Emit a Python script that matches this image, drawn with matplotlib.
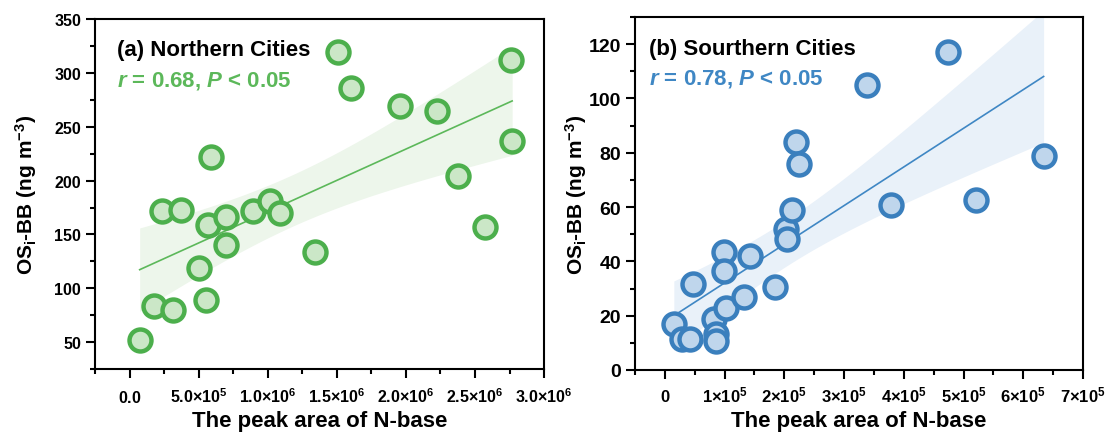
import numpy as np
import matplotlib
matplotlib.use('Agg')
import matplotlib.pyplot as plt
from matplotlib.ticker import MultipleLocator, FixedLocator, FixedFormatter

plt.rcParams['font.family'] = ['Liberation Sans', 'DejaVu Sans']
plt.rcParams['font.weight'] = 'bold'
plt.rcParams['mathtext.fontset'] = 'custom'
plt.rcParams['mathtext.rm'] = 'Liberation Sans:bold'
plt.rcParams['mathtext.it'] = 'Liberation Sans:bold:italic'
plt.rcParams['mathtext.bf'] = 'Liberation Sans:bold'
plt.rcParams['mathtext.default'] = 'regular'

# (a) Northern Cities
north_x = [0.073e6, 0.177e6, 0.312e6, 0.234e6, 0.369e6, 0.499e6, 0.556e6, 0.571e6,
           0.592e6, 0.696e6, 0.701e6, 0.894e6, 1.013e6, 1.086e6, 1.340e6, 1.512e6,
           1.605e6, 1.958e6, 2.223e6, 2.374e6, 2.571e6, 2.758e6, 2.769e6]
north_y = [52, 84, 80, 171.5, 173, 119, 89, 159,
           222, 140.5, 166, 171.5, 181, 170, 134, 319.6,
           286, 269, 265, 204.4, 157, 312, 237]

# (b) Sourthern Cities
south_x = [0.15e5, 0.29e5, 0.42e5, 0.47e5, 0.83e5, 0.86e5, 0.86e5, 0.99e5,
           0.99e5, 1.02e5, 1.32e5, 1.43e5, 1.85e5, 2.03e5, 2.04e5, 2.13e5,
           2.19e5, 2.25e5, 3.39e5, 3.79e5, 4.74e5, 5.21e5, 6.34e5]
south_y = [16.8, 11.5, 11.6, 31.7, 18.8, 13.2, 10.8, 43.4,
           36.4, 22.8, 26.9, 41.9, 30.6, 51.8, 48.1, 59,
           84.1, 76, 105.1, 60.7, 117.2, 62.5, 78.7]

north_ticks = [0, 5e5, 1e6, 1.5e6, 2e6, 2.5e6, 3e6]
north_ticklabels = ['$0.0$', '5.0×10$^{5}$', '1.0×10$^{6}$', '1.5×10$^{6}$',
                    '2.0×10$^{6}$', '2.5×10$^{6}$', '3.0×10$^{6}$']
south_ticks = [0, 1e5, 2e5, 3e5, 4e5, 5e5, 6e5, 7e5]
south_ticklabels = ['$0$'] + ['%d×10$^{5}$' % i for i in range(1, 8)]


def fit_band(x, y, t=2.080):
    # linear fit and 95% confidence band of the mean
    x = np.asarray(x, float)
    y = np.asarray(y, float)
    k, b = np.polyfit(x, y, 1)
    n = len(x)
    resid = y - (k * x + b)
    s = np.sqrt((resid ** 2).sum() / (n - 2))
    xs = np.linspace(x.min(), x.max(), 200)
    ys = k * xs + b
    se = s * np.sqrt(1 / n + (xs - x.mean()) ** 2 / ((x - x.mean()) ** 2).sum())
    return xs, ys, ys - t * se, ys + t * se


def draw(ax, x, y, edge, face, band, txtc, title, stat, tx):
    xs, ys, lo, hi = fit_band(x, y)
    ax.fill_between(xs, lo, hi, color=band, lw=0, zorder=1)
    ax.plot(xs, ys, color=txtc, lw=1.2, zorder=2)
    ax.scatter(x, y, s=250, facecolor=face, edgecolor=edge, linewidth=3.2, zorder=3)
    ax.text(tx, 0.912, title, transform=ax.transAxes, fontsize=16,
            fontweight='bold', va='center', ha='left')
    ax.text(tx, 0.826, stat, transform=ax.transAxes, fontsize=16,
            fontweight='bold', va='center', ha='left', color=txtc)
    for sp in ax.spines.values():
        sp.set_linewidth(1.5)
    ax.tick_params(which='major', direction='out', length=6.5, width=1.5)
    ax.tick_params(which='minor', direction='out', length=3.5, width=1.5)
    ax.set_xlabel('The peak area of N-base', fontsize=16, fontweight='bold', labelpad=4)
    ax.set_ylabel('OS$_{i}$-BB (ng m$^{-3}$)', fontsize=15, fontweight='bold')


fig = plt.figure(figsize=(11.09, 4.39), dpi=100)
ax1 = fig.add_axes([0.0857, 0.157, 0.4049, 0.7973])
ax2 = fig.add_axes([0.5726, 0.1549, 0.404, 0.804])

draw(ax1, north_x, north_y, '#4caf4c', '#cbe7c7', '#edf6eb', '#5cb85a',
     '(a) Northern Cities', '$\\mathit{r}$ = 0.68, $\\mathit{P}$ < 0.05', 0.048)
ax1.set_xlim(-2.5e5, 3.0e6)
ax1.set_ylim(25, 350)
ax1.xaxis.set_major_locator(FixedLocator(north_ticks))
ax1.xaxis.set_major_formatter(FixedFormatter(north_ticklabels))
ax1.xaxis.set_minor_locator(MultipleLocator(2.5e5))
ax1.yaxis.set_major_locator(MultipleLocator(50))
ax1.yaxis.set_minor_locator(MultipleLocator(25))
ax1.tick_params(axis='x', labelsize=11.5, pad=17)
ax1.tick_params(axis='y', labelsize=11.5)
ax1.yaxis.labelpad = 11

draw(ax2, south_x, south_y, '#3a7fbd', '#bfd6ec', '#e9f1f9', '#3f87c4',
     '(b) Sourthern Cities', '$\\mathit{r}$ = 0.78, $\\mathit{P}$ < 0.05', 0.031)
ax2.set_xlim(-0.5e5, 7.0e5)
ax2.set_ylim(0, 130)
ax2.xaxis.set_major_locator(FixedLocator(south_ticks))
ax2.xaxis.set_major_formatter(FixedFormatter(south_ticklabels))
ax2.xaxis.set_minor_locator(MultipleLocator(0.5e5))
ax2.yaxis.set_major_locator(MultipleLocator(20))
ax2.yaxis.set_minor_locator(MultipleLocator(10))
ax2.tick_params(axis='x', labelsize=12, pad=16)
ax2.tick_params(axis='y', labelsize=14)
ax2.yaxis.labelpad = 0

for ax in (ax1, ax2):
    for lab in ax.get_xticklabels():
        lab.set_verticalalignment('baseline')

fig.savefig('out.png', dpi=100)
